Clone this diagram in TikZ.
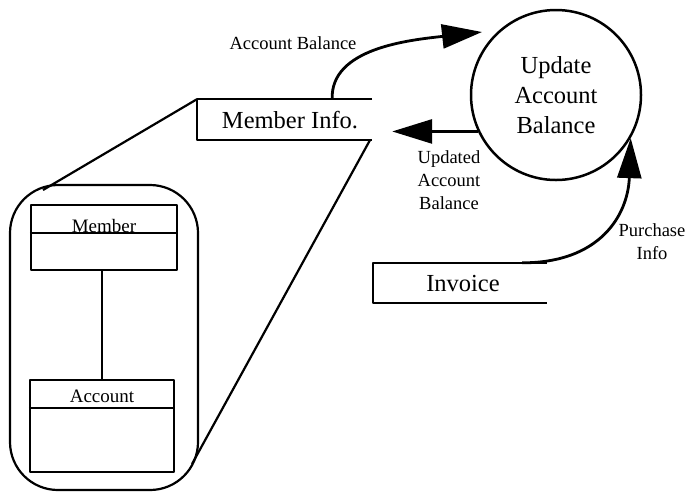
\documentclass[tikz,border=0pt]{standalone}
\usepackage{fontspec}
\setmainfont{Liberation Serif}
\usetikzlibrary{arrows.meta}
\begin{document}
\begin{tikzpicture}[x=1pt,y=-1pt,line join=round,
  proc/.style={circle,draw,line width=2.5pt,minimum size=170pt,inner sep=0pt,
    align=center,font=\fontsize{24.5}{30}\selectfont},
  storebox/.style={minimum width=#1,minimum height=40pt,inner sep=0pt},
  storeline/.style={line width=2.2pt},
  storetext/.style={inner sep=0pt,font=\fontsize{24.5}{28}\selectfont},
  entity/.style={draw,line width=2.4pt,minimum width=#1,inner sep=0pt},
  entitytext/.style={inner sep=0pt,anchor=base,font=\fontsize{19}{22}\selectfont},
  frame/.style={draw,line width=2.2pt,rounded corners=48pt,minimum width=188pt,minimum height=305pt,inner sep=0pt},
  flowlabel/.style={inner sep=0pt,align=center,font=\fontsize{18.5}{23}\selectfont},
  flow/.style={line width=2.8pt,-{Triangle[length=40pt,width=24pt]}},
  zoomline/.style={line width=2.2pt}]
\useasboundingbox (0,0) rectangle (687,491);

% process
\node[proc] (proc) at (556,95) {Update\\Account\\Balance};

% data stores
\node[storebox=175pt] (mi) at (284.5,119.5) {};
\draw[storeline] (mi.north east) -- (mi.north west) -- (mi.south west) -- (mi.south east);
\node[storetext] (mitext) at (290,120) {Member Info.};

\node[storebox=174pt] (inv) at (460,283) {};
\draw[storeline] (inv.north east) -- (inv.north west) -- (inv.south west) -- (inv.south east);
\node[storetext] (invtext) at (463,283) {Invoice};

% expanded view of the store contents
\node[frame] (frame) at (104,337.5) {};
\node[entity=146pt,minimum height=65pt] (member) at (104,237.5) {};
\draw[line width=2.4pt] ([yshift=-29pt]member.north west) -- ([yshift=-29pt]member.north east);
\node[entitytext] (membertext) at (104,232) {Member};
\node[entity=144pt,minimum height=92pt] (account) at (102,426) {};
\draw[line width=2.4pt] ([yshift=-29pt]account.north west) -- ([yshift=-29pt]account.north east);
\node[entitytext] (accounttext) at (102,402) {Account};
\draw[line width=2.2pt] (account.north) -- (account.north |- member.south);

\coordinate (frametop) at (43,190);
\coordinate (framebot) at (192,464);
\draw[zoomline] (mi.north west) -- (frametop);
\draw[zoomline] ([xshift=-2pt]mi.south east) -- (framebot);

% data flows
\coordinate (abtip) at (482,32);
\draw[flow] ([xshift=-40pt]mi.north east) .. controls (330,48) and (410,40) .. (abtip);
\node[flowlabel] at (293,43) {Account Balance};

\draw[flow] (proc.205) -- ([xshift=20pt]mi.east |- proc.205);
\node[flowlabel] at (449,180) {Updated\\Account\\Balance};

\draw[flow] ([xshift=-25pt]inv.north east) .. controls (600,263) and (628,215) .. (proc.-30);
\node[flowlabel] at (652,242) {Purchase\\Info};
\end{tikzpicture}
\end{document}
